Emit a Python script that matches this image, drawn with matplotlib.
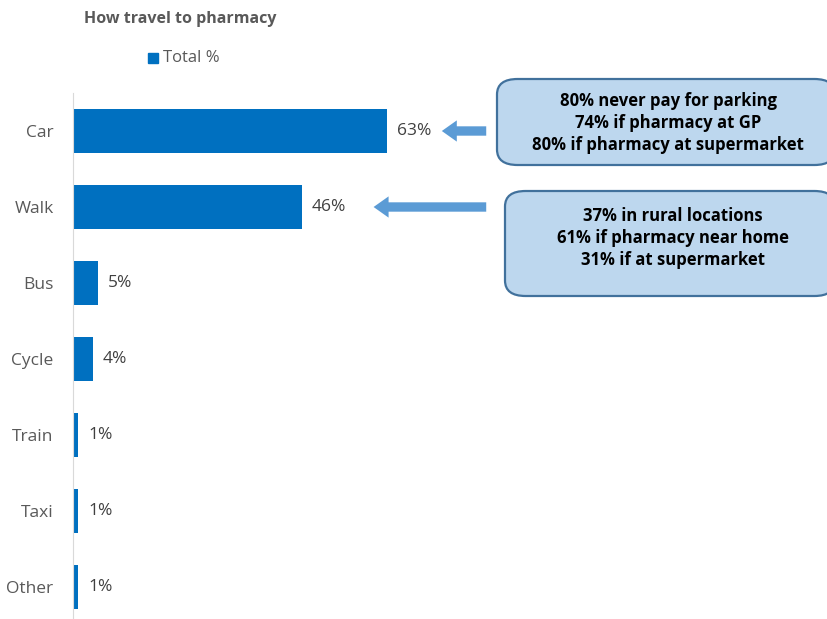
import matplotlib.pyplot as plt
from matplotlib.patches import FancyBboxPatch, FancyArrowPatch

# data
modes = ['Car', 'Walk', 'Bus', 'Cycle', 'Train', 'Taxi', 'Other']
total_pct = [63, 46, 5, 4, 1, 1, 1]
car_notes = ['80% never pay for parking', '74% if pharmacy at GP', '80% if pharmacy at supermarket']
walk_notes = ['37% in rural locations', '61% if pharmacy near home', '31% if at supermarket']

W, H = 827, 619
plt.rcParams['font.family'] = ['Open Sans', 'DejaVu Sans']


def fx(x):
    return x / W


def fy(y):
    return 1 - y / H


fig = plt.figure(figsize=(W / 100, H / 100), dpi=100)
# bars: one band of 76 px per category, starting at y=93
ax = fig.add_axes([fx(73), fy(93 + 76 * 7), fx(754), 76 * 7 / H])

ypos = list(range(len(modes)))
ax.barh(ypos, total_pct, height=0.57, color='#0070c0')
ax.set_ylim(len(modes) - 0.5, -0.5)
ax.set_xlim(0, 754 / 4.98)
ax.set_yticks(ypos)
ax.set_yticklabels(modes, fontsize=12.5, color='#595959')
ax.tick_params(axis='y', length=0, pad=14)
ax.set_xticks([])
for s in ['top', 'right', 'bottom']:
    ax.spines[s].set_visible(False)
ax.spines['left'].set_color('#d9d9d9')

for y, v in zip(ypos, total_pct):
    ax.text(v + 2, y, f'{v}%', va='center', ha='left', fontsize=12.5, color='#404040')

# title and legend
fig.text(fx(84), fy(19), 'How travel to pharmacy', fontsize=11.5, fontweight='bold',
         color='#595959', va='center', ha='left')
fig.patches.append(plt.Rectangle((fx(148), fy(63)), fx(10), 10 / H, transform=fig.transFigure,
                                 color='#0070c0'))
fig.text(fx(163), fy(58), 'Total %', fontsize=12, color='#595959', va='center', ha='left')

# arrows
arrow_kw = dict(arrowstyle='simple,head_width=1.7,head_length=1.2,tail_width=0.75',
                color='#5b9bd5', mutation_scale=9, lw=0)
ax.add_patch(FancyArrowPatch(((489 - 73) / 4.98, 0), (total_pct[0] + 10.5, 0), **arrow_kw))
ax.add_patch(FancyArrowPatch(((489 - 73) / 4.98, 1), (total_pct[1] + 13.8, 1), **arrow_kw))

# callout boxes
for (x0, y0, x1, y1), notes in [((497, 79, 835, 165), car_notes), ((505, 191, 835, 296), walk_notes)]:
    box = FancyBboxPatch((fx(x0), fy(y1)), fx(x1 - x0), (y1 - y0) / H,
                         boxstyle='round,pad=0,rounding_size=0.025', transform=fig.transFigure,
                         facecolor='#bdd7ee', edgecolor='#41719c', lw=1.6, clip_on=False)
    fig.patches.append(box)

fig.text(fx(668), fy(123), '\n'.join(car_notes), fontsize=12, fontweight='bold',
         ha='center', va='center', linespacing=1.3, color='#000000')
fig.text(fx(673), fy(238), '\n'.join(walk_notes), fontsize=12, fontweight='bold',
         ha='center', va='center', linespacing=1.3, color='#000000')

fig.savefig('out.png', dpi=100)
